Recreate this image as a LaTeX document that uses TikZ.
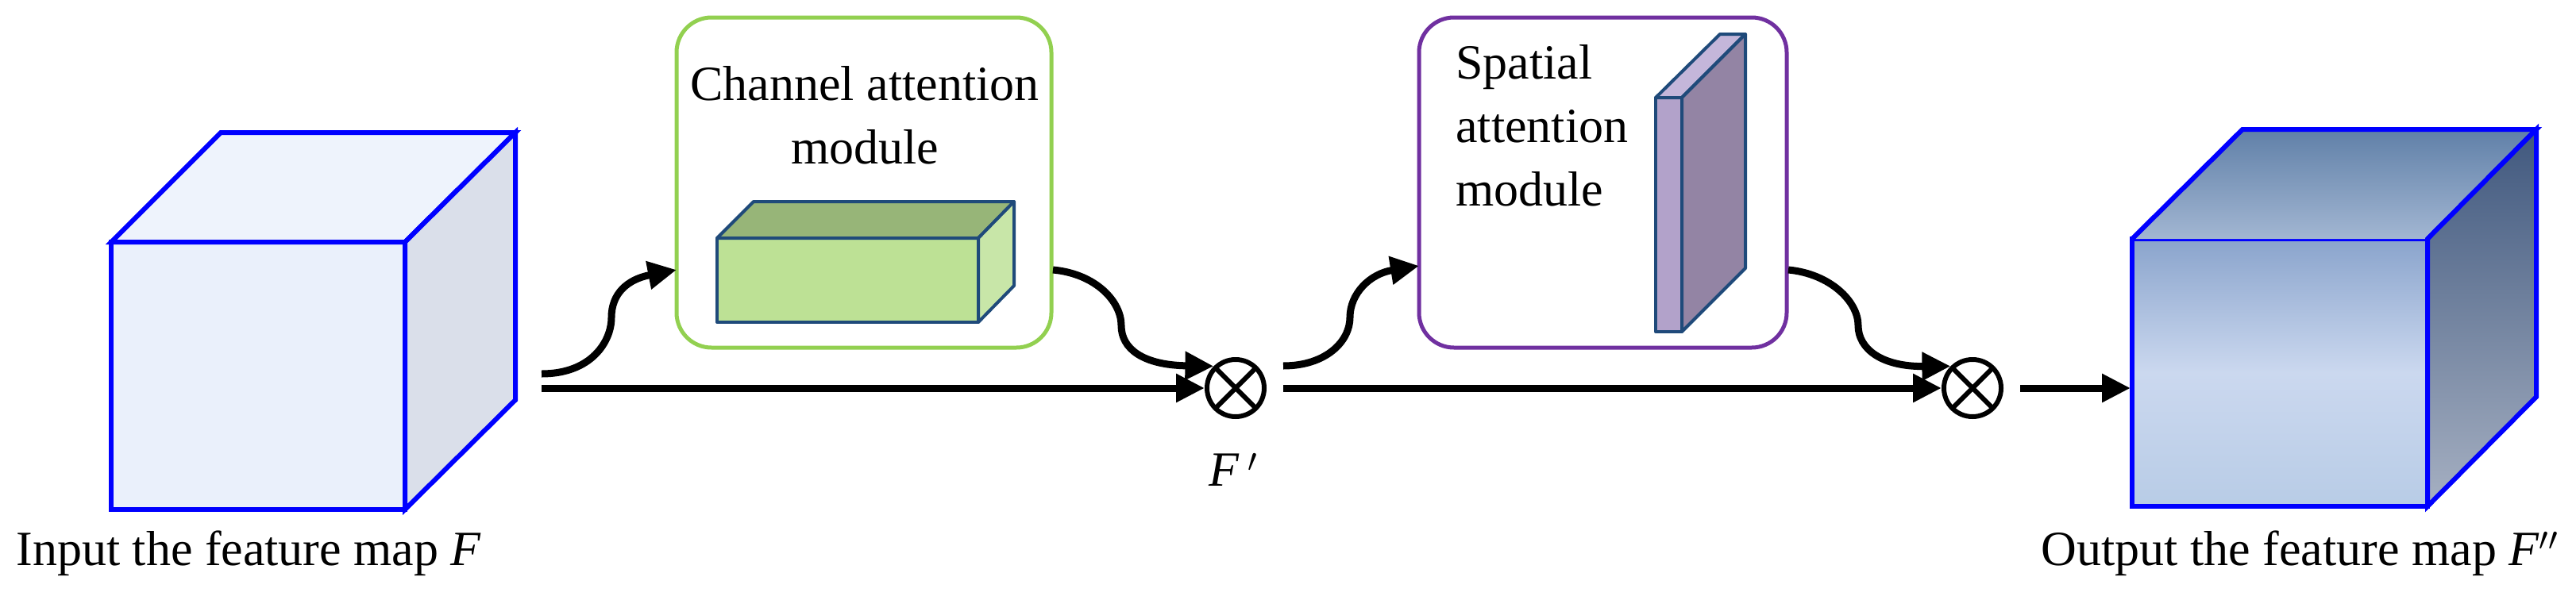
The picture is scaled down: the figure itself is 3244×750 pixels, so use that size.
\documentclass[tikz,border=0pt]{standalone}
\usepackage{fontspec}
\setmainfont{Liberation Serif}
\usetikzlibrary{arrows.meta}
\definecolor{cubefront}{HTML}{EAF0FB}
\definecolor{cubetop}{HTML}{EEF3FC}
\definecolor{cubeside}{HTML}{DADFEA}
\definecolor{gfront}{HTML}{BDE195}
\definecolor{gtop}{HTML}{97B578}
\definecolor{gside}{HTML}{C8E6A8}
\definecolor{pfront}{HTML}{B2A2CA}
\definecolor{ptop}{HTML}{C4B6DA}
\definecolor{pside}{HTML}{9384A4}
\definecolor{edge}{HTML}{1F4A7A}
\definecolor{gbox}{HTML}{92D050}
\definecolor{pbox}{HTML}{7030A0}
\definecolor{ofT}{HTML}{8AA4CC}
\definecolor{ofM}{HTML}{CBD8EF}
\definecolor{ofB}{HTML}{B8CCE6}
\definecolor{otT}{HTML}{6080A8}
\definecolor{otB}{HTML}{A2B6D2}
\definecolor{osT}{HTML}{40587E}
\definecolor{osB}{HTML}{A6B0C2}
\tikzset{
  cube/.style={draw=blue,line width=3pt,line join=miter},
  prism/.style={draw=edge,line width=2pt,line join=round},
  module/.style={rounded corners=22pt,line width=2.5pt},
  conn/.style={line width=4.5pt,-{Triangle[length=18pt,width=17pt]}},
  lbl/.style={font=\fontsize{31}{36}\selectfont,inner sep=0pt},
  mult/.style={circle,draw,line width=3pt,minimum size=36pt,inner sep=0pt,
    path picture={\draw[line width=3pt] (path picture bounding box.north west)--(path picture bounding box.south east)
      (path picture bounding box.north east)--(path picture bounding box.south west);}}
}
\begin{document}
\begin{tikzpicture}[x=0.5pt,y=-0.5pt]
\useasboundingbox (0,0) rectangle (3244,750);
% input cube
\filldraw[cube,fill=cubefront] (140,305) rectangle (510,642);
\filldraw[cube,fill=cubetop] (140,305)--(278,167)--(649,167)--(510,305)--cycle;
\filldraw[cube,fill=cubeside] (510,305)--(649,167)--(649,504)--(510,642)--cycle;
\node[lbl,anchor=base west] (inlbl) at (20,712) {Input the feature map \textit{F}};
% channel module
\draw[module,draw=gbox] (852,22) rectangle (1324,438);
\coordinate (gin) at (852,340);
\coordinate (gout) at (1326,340);
\node[lbl,align=center] (gtxt) at (1089,145) {Channel attention\\[4pt]module};
\filldraw[prism,fill=gfront] (903,300) rectangle (1232,406);
\filldraw[prism,fill=gtop] (903,300)--(949,254)--(1277,254)--(1232,300)--cycle;
\filldraw[prism,fill=gside] (1232,300)--(1277,254)--(1277,360)--(1232,406)--cycle;
% spatial module
\draw[module,draw=pbox] (1787,22) rectangle (2250,438);
\coordinate (pin) at (1787,335);
\coordinate (pout) at (2252,340);
\node[lbl,align=left,anchor=north west] (ptxt) at (1833,56) {Spatial\\[4pt]attention\\[4pt]module};
\filldraw[prism,fill=pfront] (2085,123) rectangle (2118,418);
\filldraw[prism,fill=ptop] (2085,123)--(2166,43)--(2198,43)--(2118,123)--cycle;
\filldraw[prism,fill=pside] (2118,123)--(2198,43)--(2198,338)--(2118,418)--cycle;
% multipliers
\node[mult] (m1) at (1556,489) {};
\node[lbl] (fp) at (1553,592) {\textit{F}\,$'$};
\node[mult] (m2) at (2484,489) {};
% output cube
\shade[top color=ofT,bottom color=ofB,middle color=ofM] (2685,301) rectangle (3057,638);
\draw[cube] (2685,301) rectangle (3057,638);
\shade[top color=otT,bottom color=otB] (2685,301)--(2824,163)--(3194,163)--(3057,301)--cycle;
\draw[cube] (2685,301)--(2824,163)--(3194,163)--(3057,301);
\shade[top color=osT,bottom color=osB] (3057,301)--(3194,163)--(3194,500)--(3057,638)--cycle;
\draw[cube] (3057,301)--(3194,163)--(3194,500)--(3057,638)--cycle;
\node[lbl,anchor=base east] (outlbl) at (3222,712) {Output the feature map \textit{F}$''$};
% connectors
\coordinate (s1) at (682,489);
\coordinate (c1) at (682,471);
\coordinate (s2) at (1616,489);
\coordinate (c2) at (1616,461);
\coordinate (s3) at (2544,489);
\coordinate (e3) at (2683,489);
\draw[conn] (s1) -- (m1.west);
\draw[conn] (s2) -- (m2.west);
\draw[conn] (s3) -- (e3);
\draw[conn] (c1) .. controls (745,471) and (770,430) .. (770,400) .. controls (770,370) and (790,352) .. (gin);
\draw[conn] (gout) .. controls (1380,345) and (1412,380) .. (1412,410) .. controls (1412,440) and (1440,460) .. (m1.north west);
\draw[conn] (c2) .. controls (1670,461) and (1700,430) .. (1700,400) .. controls (1700,370) and (1725,345) .. (pin);
\draw[conn] (pout) .. controls (2305,345) and (2340,380) .. (2340,410) .. controls (2340,440) and (2370,462) .. (m2.north west);
\end{tikzpicture}
\end{document}
